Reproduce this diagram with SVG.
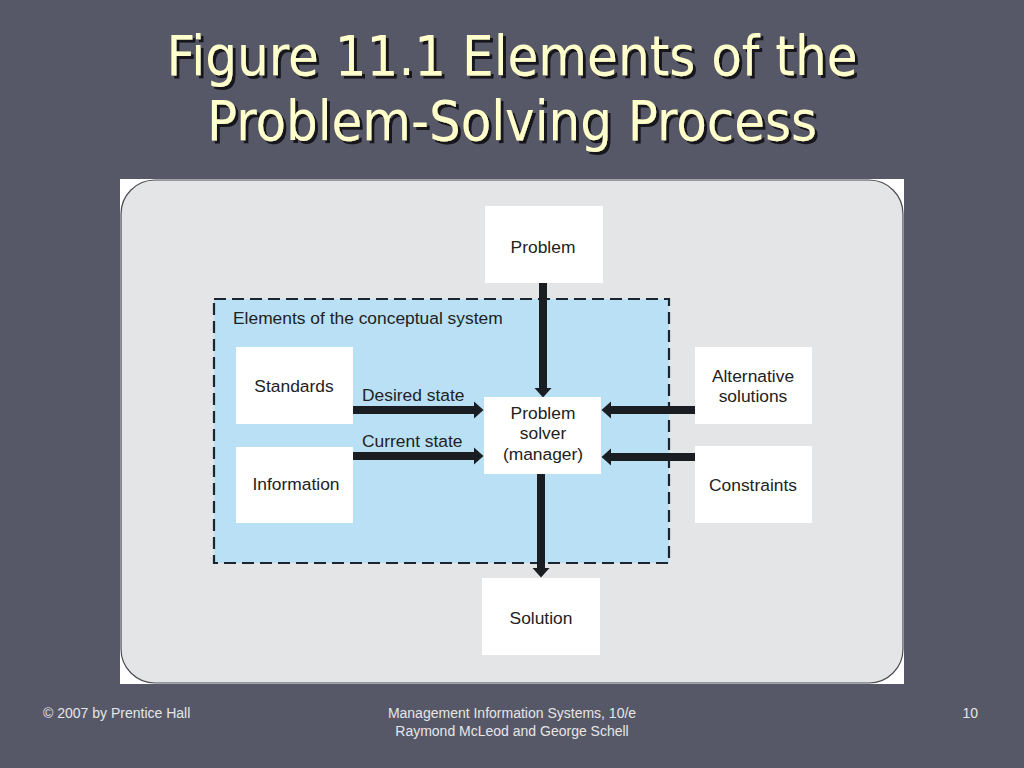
<svg xmlns="http://www.w3.org/2000/svg" width="1024" height="768" viewBox="0 0 1024 768">
<style>
.title{font-family:"DejaVu Sans Condensed","DejaVu Sans",Tahoma,sans-serif;font-size:55px;text-anchor:middle;fill:#ffffcc}
.box{fill:#ffffff}
.lbl{font-family:"Liberation Sans",Arial,sans-serif;font-size:17.4px;fill:#222222;text-anchor:middle}
.lbll{font-family:"Liberation Sans",Arial,sans-serif;font-size:17.4px;fill:#222222}
.foot{font-family:"Liberation Sans",Arial,sans-serif;font-size:14px;fill:#e6e6e6}
.conn{stroke:#1a1d22;stroke-width:8;fill:none}
</style>
<defs>
<filter id="tshadow" x="-5%" y="-20%" width="110%" height="150%">
<feDropShadow dx="3" dy="3" stdDeviation="0.6" flood-color="#15151c" flood-opacity="1"/>
</filter>
<marker id="ah" viewBox="0 -9 10 18" refX="0" refY="0" markerWidth="10" markerHeight="18" markerUnits="userSpaceOnUse" orient="auto">
<path d="M0,-8.5 L9.5,0 L0,8.5 z" fill="#1a1d22"/>
</marker>
</defs>
<rect x="0" y="0" width="1024" height="768" fill="#565868"/>
<g id="title" filter="url(#tshadow)">
<text class="title" x="512" y="75" textLength="691" lengthAdjust="spacingAndGlyphs">Figure 11.1 Elements of the</text>
<text class="title" x="512" y="140" textLength="610" lengthAdjust="spacingAndGlyphs">Problem-Solving Process</text>
</g>
<g id="panel">
<rect x="120" y="179" width="784" height="505" fill="#ffffff"/>
<rect x="121" y="180" width="782" height="503" rx="34" ry="34" fill="#e3e5e6" stroke="#4a4a52" stroke-width="1.2"/>
</g>
<g id="conceptual-system">
<rect x="214" y="299" width="455" height="264" fill="#b9e0f5" stroke="#1a2530" stroke-width="2.2" stroke-dasharray="12,6"/>
<text class="lbll" x="233" y="324">Elements of the conceptual system</text>
</g>
<g id="connectors">
<line class="conn" x1="543" y1="283" x2="543" y2="388" marker-end="url(#ah)"/>
<line class="conn" x1="541" y1="474" x2="541" y2="568" marker-end="url(#ah)"/>
<line class="conn" x1="353" y1="410" x2="474" y2="410" marker-end="url(#ah)"/>
<line class="conn" x1="353" y1="456" x2="474" y2="456" marker-end="url(#ah)"/>
<line class="conn" x1="695" y1="410" x2="611" y2="410" marker-end="url(#ah)"/>
<line class="conn" x1="695" y1="457" x2="611" y2="457" marker-end="url(#ah)"/>
<text class="lbll" x="362" y="401">Desired state</text>
<text class="lbll" x="362" y="447">Current state</text>
</g>
<g id="problem">
<rect class="box" x="485" y="206" width="118" height="77"/>
<text class="lbl" x="543" y="253">Problem</text>
</g>
<g id="standards">
<rect class="box" x="236" y="347" width="117" height="77"/>
<text class="lbl" x="294" y="392">Standards</text>
</g>
<g id="information">
<rect class="box" x="236" y="447" width="117" height="76"/>
<text class="lbl" x="296" y="490">Information</text>
</g>
<g id="problem-solver">
<rect class="box" x="484" y="397" width="117" height="77"/>
<text class="lbl" x="543" y="419">Problem</text>
<text class="lbl" x="543" y="439">solver</text>
<text class="lbl" x="543" y="460">(manager)</text>
</g>
<g id="alternative-solutions">
<rect class="box" x="695" y="347" width="117" height="77"/>
<text class="lbl" x="753" y="382">Alternative</text>
<text class="lbl" x="753" y="402">solutions</text>
</g>
<g id="constraints">
<rect class="box" x="695" y="446" width="117" height="77"/>
<text class="lbl" x="753" y="491">Constraints</text>
</g>
<g id="solution">
<rect class="box" x="482" y="578" width="118" height="77"/>
<text class="lbl" x="541" y="624">Solution</text>
</g>
<g id="footer">
<text class="foot" x="43" y="718">© 2007 by Prentice Hall</text>
<text class="foot" x="512" y="718" text-anchor="middle">Management Information Systems, 10/e</text>
<text class="foot" x="512" y="736" text-anchor="middle">Raymond McLeod and George Schell</text>
<text class="foot" x="978" y="718" text-anchor="end">10</text>
</g>
</svg>
